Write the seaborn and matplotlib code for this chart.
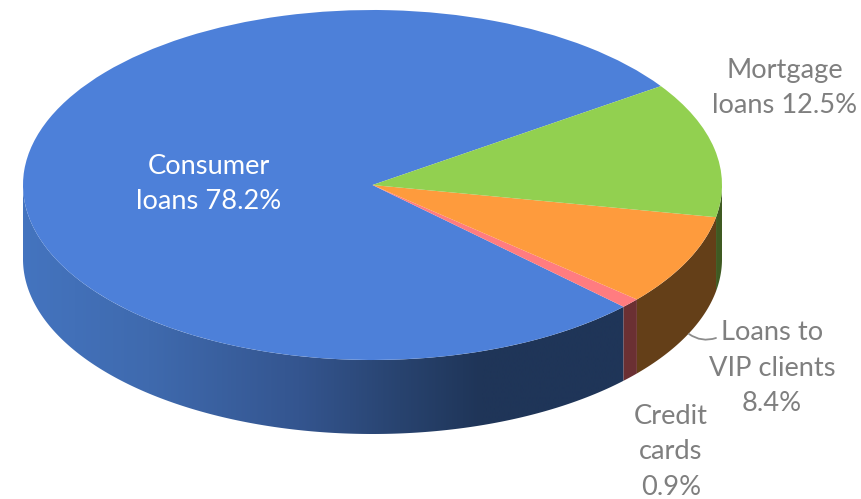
import numpy as np
import matplotlib
matplotlib.use("Agg")
import matplotlib.pyplot as plt
from matplotlib.colors import LinearSegmentedColormap
from matplotlib.patches import Polygon
import seaborn as sns

# Loan portfolio shares, percent, counter-clockwise from the start angle
categories = ["Consumer loans", "Credit cards", "Loans to VIP clients", "Mortgage loans"]
shares = [78.2, 0.9, 8.4, 12.5]
label_lines = ["Consumer\nloans 78.2%", "Credit\ncards\n0.9%", "Loans to\nVIP clients\n8.4%", "Mortgage\nloans 12.5%"]

top_colors = ["#4d80d9", "#ff7c80", "#fe9b3d", "#92d050"]
wall_colors = ["#1f3558", "#6b3033", "#643f18", "#3f5a22"]
text_gray = "#7f7f7f"

START_ANGLE = 34.4
W, H = 861, 499
CX, CY, RX, RY, DEPTH = 372.5, 185.0, 349.5, 175.0, 74.0

sns.set_theme(style="white")
plt.rcParams["font.family"] = ["Lato", "DejaVu Sans"]

fig = plt.figure(figsize=(W / 100, H / 100), dpi=100, facecolor="white")
ax = fig.add_axes([0, 0, 1, 1])

ax.pie(shares, colors=top_colors, startangle=START_ANGLE, radius=1, center=(0, 0),
       wedgeprops={"linewidth": 0}, normalize=True)
for wedge in ax.patches:
    wedge.set_zorder(3)

ax.set_aspect("auto")
xlim = (-CX / RX, (W - CX) / RX)
ylim = ((CY - H) / RY, CY / RY)
depth = DEPTH / RY


def px(x, y):
    return (x - CX) / RX, (CY - y) / RY


# Side wall of the disc: each slice keeps its sweep, clipped to the visible front half
edges = START_ANGLE + np.cumsum([0] + shares) * 3.6
for i, (a0, a1) in enumerate(zip(edges[:-1], edges[1:])):
    theta = np.radians(np.linspace(max(a0, 180), min(a1, 360), 300))
    if a0 >= 360 or a1 <= 180:
        continue
    xs, ys = np.cos(theta), np.sin(theta)
    outline = np.r_[np.c_[xs, ys], np.c_[xs, ys - depth][::-1]]
    if i == 0:
        stops = [(-1.0, "#4474bf"), (-0.64, "#3f6aae"), (-0.21, "#34558f"),
                 (0.08, "#28436f"), (0.31, "#1f3558"), (1.0, "#1f3558")]
        cmap = LinearSegmentedColormap.from_list(
            "wall", [((v + 1) / 2, c) for v, c in stops])
        shade = ax.imshow(np.linspace(0, 1, 512)[None, :], cmap=cmap, aspect="auto",
                          extent=(-1, 1, ylim[0], ylim[1]), zorder=1,
                          interpolation="bilinear")
        shade.set_clip_path(Polygon(outline, closed=True, transform=ax.transData))
    else:
        ax.fill(outline[:, 0], outline[:, 1], color=wall_colors[i], lw=0, zorder=1)

ax.set_xlim(*xlim)
ax.set_ylim(*ylim)
ax.axis("off")

# Leader line for the VIP slice
ax.annotate("", xy=px(689, 334), xytext=px(716, 338),
            arrowprops=dict(arrowstyle="-", color="#8c8c8c", lw=1.3,
                            connectionstyle="arc3,rad=-0.25",
                            shrinkA=0, shrinkB=0), zorder=2)

label_pos = [(209, 184), (671, 452), (772, 368), (785, 88)]
label_cols = ["white", text_gray, text_gray, text_gray]
for txt, (x, y), col in zip(label_lines, label_pos, label_cols):
    ax.text(*px(x, y), txt, color=col, fontsize=19.6, ha="center", va="center",
            linespacing=1.53, zorder=5)

fig.savefig("out.png", dpi=100, facecolor="white")
